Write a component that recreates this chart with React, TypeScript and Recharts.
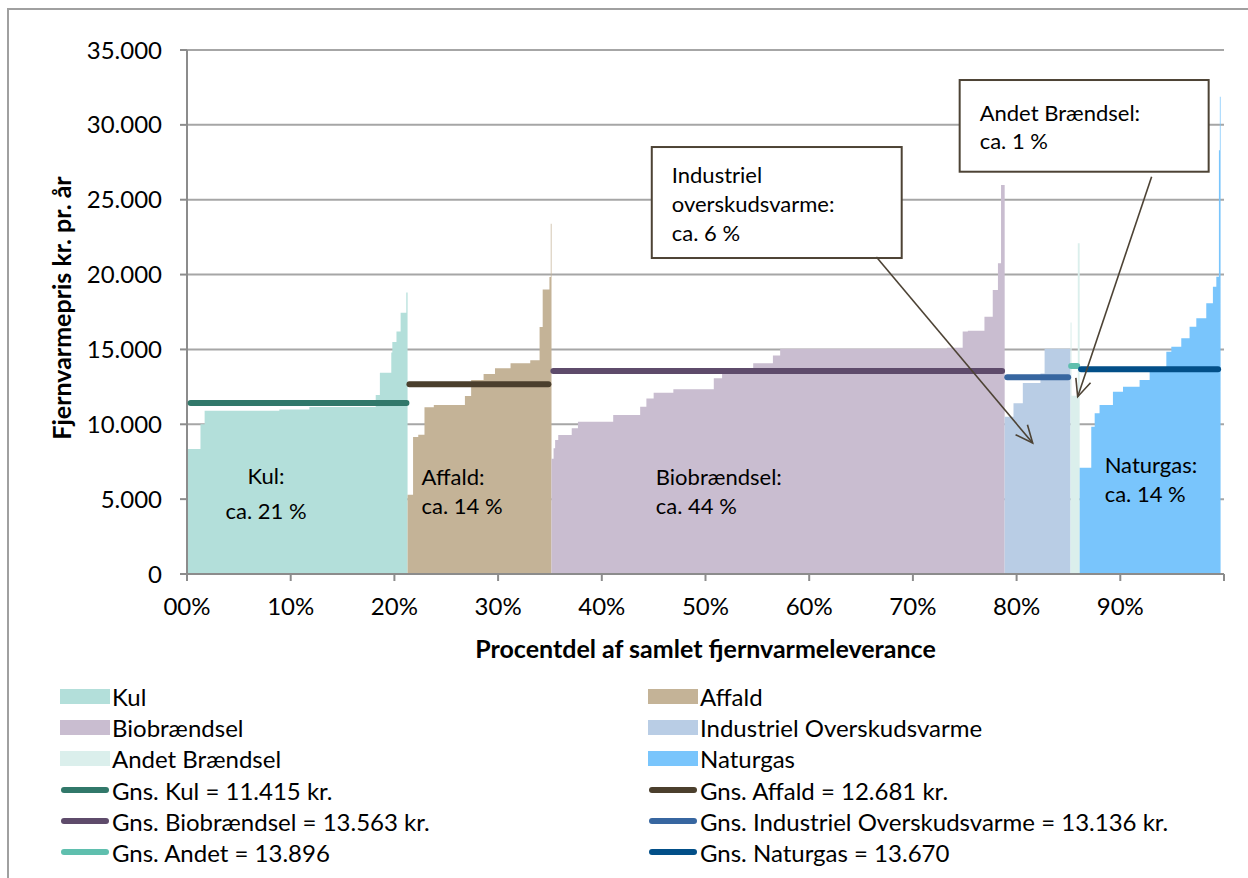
import React from 'react';
import {
  ComposedChart,
  Area,
  XAxis,
  YAxis,
  CartesianGrid,
  ReferenceLine,
  ReferenceArea,
  ReferenceDot,
} from 'recharts';

// ---------- DATA ----------
// step start positions (% of total district heating delivery) and price (kr. pr. år)
const kulX = [0, 1.3, 1.7, 8.9, 11.8, 18.2, 18.6, 19.7, 19.8, 20.2, 20.6, 21.15];
const kulY = [8350, 10000, 10900, 10980, 11150, 11950, 13450, 14800, 15500, 16200, 17450, 18800];
const kulEnd = 21.27;

const affaldX = [21.27, 21.8, 22.3, 22.9, 23.8, 26.8, 27.4, 28.6, 29.7, 31.2, 33.1, 34.0, 34.3, 34.95, 35.08];
const affaldY = [5300, 9150, 9300, 11130, 11290, 11890, 12960, 13360, 13740, 14070, 14270, 16500, 19000, 19840, 23400];
const affaldEnd = 35.15;

const bioX = [35.15, 35.35, 35.5, 35.8, 37.1, 37.7, 41.1, 43.7, 44.3, 45.0, 46.9, 50.8, 51.6, 54.6, 56.5, 57.2, 73.3, 74.8, 75.3, 76.9, 77.7, 78.2, 78.5];
const bioY = [7700, 8400, 8950, 9280, 9730, 10170, 10620, 11170, 11730, 12110, 12340, 13070, 13360, 14070, 14600, 15050, 15110, 16190, 16250, 17190, 18970, 20750, 25980];
const bioEnd = 78.85;

const industrielX = [78.85, 79.7, 80.6, 82.3, 82.7];
const industrielY = [10500, 11400, 12750, 13400, 15050];
const industrielEnd = 85.2;

const andetX = [85.2, 85.3, 85.9];
const andetY = [16800, 11900, 22100];
const andetEnd = 86.08;

const naturgasX = [86.08, 87.2, 87.53, 88.0, 89.29, 90.26, 91.86, 92.83, 94.44, 94.92, 95.88, 96.68, 97.33, 98.29, 98.93, 99.26, 99.51, 99.6];
const naturgasY = [7100, 9840, 10730, 11290, 12180, 12510, 12960, 13510, 14850, 15180, 15740, 16520, 17080, 18080, 19190, 19860, 28300, 31880];
const naturgasEnd = 99.67;

const seriesKeys = ['kul', 'affald', 'bio', 'industriel', 'andet', 'naturgas'];
const seriesNames = ['Kul', 'Affald', 'Biobrændsel', 'Industriel Overskudsvarme', 'Andet Brændsel', 'Naturgas'];

// averages and the stretch of delivery they cover
const avgValues = [11415, 12681, 13563, 13136, 13896, 13670];
const avgFrom = [0.35, 21.45, 35.33, 79.1, 85.26, 86.22];
const avgTo = [21.16, 34.85, 78.6, 84.97, 85.84, 99.43];
const avgNames = [
  'Gns. Kul = 11.415 kr.',
  'Gns. Affald = 12.681 kr.',
  'Gns. Biobrændsel = 13.563 kr.',
  'Gns. Industriel Overskudsvarme = 13.136 kr.',
  'Gns. Andet = 13.896',
  'Gns. Naturgas = 13.670',
];

const yTicks = [0, 5000, 10000, 15000, 20000, 25000, 30000, 35000];
const xTicks = [0, 10, 20, 30, 40, 50, 60, 70, 80, 90, 100];

// in-chart labels: anchor (x %, price) and text lines
const areaLabelX = [7.62, 22.62, 45.21, 88.49];
const areaLabelY = [6011, 5944, 5944, 6726];
const areaLabelLines = [
  ['Kul:', 'ca. 21 %'],
  ['Affald:', 'ca. 14 %'],
  ['Biobrændsel:', 'ca. 44 %'],
  ['Naturgas:', 'ca. 14 %'],
];

// callout boxes and arrows (data coordinates)
const boxX1 = [44.82, 74.51];
const boxX2 = [68.92, 98.52];
const boxY1 = [21106, 26870];
const boxY2 = [28519, 32995];
const boxLines = [
  ['Industriel', 'overskudsvarme:', 'ca. 6 %'],
  ['Andet Brændsel:', 'ca. 1 %'],
];
const arrowFromX = [66.48, 93.02];
const arrowFromY = [21170, 26540];
const arrowToX = [81.55, 85.89];
const arrowToY = [8750, 11840];

// ---------- STYLE ----------
const FONT = 'Lato, "Open Sans", sans-serif';
const FS = 22; // annotations
const TICK_FS = 24;
const LEGEND_FS = 24;
const TITLE_FS = 25;
const fillColors = ['#b3dfda', '#c4b397', '#c9bdd0', '#b9cde5', '#dbefec', '#79c5fc'];
const avgColors = ['#31786a', '#4b3f2d', '#5e4b6b', '#3766a0', '#5fbfae', '#024f88'];
const GRID = '#a6a6a6';
const AXIS = '#8c8c8c';
const BOX = '#4d4335';

// ---------- build table ----------
const seriesX = [kulX, affaldX, bioX, industrielX, andetX, naturgasX];
const seriesY = [kulY, affaldY, bioY, industrielY, andetY, naturgasY];
const seriesEnd = [kulEnd, affaldEnd, bioEnd, industrielEnd, andetEnd, naturgasEnd];

const rows: any[] = [];
seriesKeys.forEach((key, s) => {
  const xs = seriesX[s];
  const ys = seriesY[s];
  xs.forEach((x, i) => rows.push({ x, [key]: ys[i] }));
  rows.push({ x: seriesEnd[s], [key]: ys[ys.length - 1] });
});

const fmtY = (v: number) => String(v).replace(/\B(?=(\d{3})+(?!\d))/g, '.');
const fmtX = (v: number) => (v === 0 ? '00%' : v === 100 ? '' : `${v}%`);

const Arrow = (p: any) => {
  const { x1, y1, x2, y2 } = p;
  const ang = Math.atan2(y2 - y1, x2 - x1);
  const L = 19;
  const a = 0.42;
  const ax = x2 - L * Math.cos(ang - a);
  const ay = y2 - L * Math.sin(ang - a);
  const bx = x2 - L * Math.cos(ang + a);
  const by = y2 - L * Math.sin(ang + a);
  return (
    <g>
      <line x1={x1} y1={y1} x2={x2} y2={y2} stroke={BOX} strokeWidth={1.6} />
      <polyline points={`${ax},${ay} ${x2},${y2} ${bx},${by}`} fill="none" stroke={BOX} strokeWidth={1.6} />
    </g>
  );
};

const makeBox = (lines: string[], offsets: number[]) => (p: any) => {
  const { x, y, width, height } = p;
  return (
    <g>
      <rect x={x} y={y} width={width} height={height} fill="#ffffff" stroke={BOX} strokeWidth={2} />
      {lines.map((t, i) => (
        <text key={i} x={x + 20} y={y + offsets[i]} fontSize={FS} fontFamily={FONT} fill="#000">
          {t}
        </text>
      ))}
    </g>
  );
};
const boxOffsets = [
  [35.7, 65, 94.3],
  [41, 69.3],
];

const makeAreaLabel = (lines: string[], centered: boolean, gap: number) => (p: any) => (
  <g>
    {lines.map((t, i) => (
      <text
        key={i}
        x={p.cx}
        y={p.cy + i * gap}
        fontSize={FS}
        fontFamily={FONT}
        fill="#000"
        textAnchor={centered ? 'middle' : 'start'}
      >
        {t}
      </text>
    ))}
  </g>
);

const legendRowsY = [696, 727, 758, 790, 821, 852];

export default function App() {
  const legendItems: any[] = [];
  seriesNames.forEach((n, i) => legendItems.push({ name: n, color: fillColors[i], kind: 'box' }));
  avgNames.forEach((n, i) => legendItems.push({ name: n, color: avgColors[i], kind: 'line' }));

  return (
    <div
      style={{
        position: 'fixed',
        left: 0,
        top: 0,
        width: 1248,
        height: 878,
        overflow: 'hidden',
        background: '#fff',
        fontFamily: FONT,
      }}
    >
      <div
        style={{
          position: 'absolute',
          left: 7,
          top: 8,
          width: 1300,
          height: 900,
          border: '2px solid #a0a0a0',
        }}
      />
      <div style={{ position: 'absolute', left: 0, top: 0 }}>
        <ComposedChart
          width={1248}
          height={690}
          data={rows}
          margin={{ top: 50, right: 24, bottom: 36, left: 0 }}
        >
          <CartesianGrid horizontal vertical={false} stroke={GRID} strokeWidth={2} />
          <XAxis
            dataKey="x"
            type="number"
            domain={[0, 100]}
            ticks={xTicks}
            tickFormatter={fmtX}
            interval={0}
            height={80}
            stroke={AXIS}
            strokeWidth={2}
            tickSize={7}
            tickMargin={17}
            tick={{ fontSize: TICK_FS, fill: '#000', fontFamily: FONT }}
            label={{
              content: () => (
                <text x={705.5} y={658} textAnchor="middle" fontSize={TITLE_FS} fontWeight="bold" fontFamily={FONT} fill="#000">
                  Procentdel af samlet fjernvarmeleverance
                </text>
              ),
            }}
          />
          <YAxis
            type="number"
            domain={[0, 35000]}
            ticks={yTicks}
            tickFormatter={fmtY}
            interval={0}
            width={187}
            stroke={AXIS}
            strokeWidth={2}
            tickSize={7}
            tickMargin={18}
            tick={{ fontSize: TICK_FS, fill: '#000', fontFamily: FONT }}
            label={{
              content: () => (
                <text
                  x={71}
                  y={308}
                  textAnchor="middle"
                  fontSize={TITLE_FS}
                  fontWeight="bold"
                  fontFamily={FONT}
                  fill="#000"
                  transform="rotate(-90, 71, 308)"
                >
                  Fjernvarmepris kr. pr. år
                </text>
              ),
            }}
          />
          {seriesKeys.map((k, i) => (
            <Area
              key={k}
              type="stepAfter"
              dataKey={k}
              name={seriesNames[i]}
              fill={fillColors[i]}
              fillOpacity={1}
              stroke="none"
              dot={false}
              activeDot={false}
              connectNulls={false}
              isAnimationActive={false}
            />
          ))}
          {areaLabelLines.map((lines, i) => (
            <ReferenceDot
              key={'lab' + i}
              x={areaLabelX[i]}
              y={areaLabelY[i]}
              r={0}
              shape={makeAreaLabel(lines, i === 0, i === 0 ? 35 : 28.5)}
              zIndex={650}
            />
          ))}
          {avgValues.map((v, i) => (
            <ReferenceLine
              key={'avg' + i}
              segment={[
                { x: avgFrom[i], y: v },
                { x: avgTo[i], y: v },
              ]}
              stroke={avgColors[i]}
              strokeWidth={6}
              strokeLinecap="round"
              zIndex={600}
            />
          ))}
          {boxLines.map((lines, i) => (
            <ReferenceArea
              key={'box' + i}
              x1={boxX1[i]}
              x2={boxX2[i]}
              y1={boxY1[i]}
              y2={boxY2[i]}
              shape={makeBox(lines, boxOffsets[i])}
              zIndex={700}
            />
          ))}
          {arrowFromX.map((fx, i) => (
            <ReferenceLine
              key={'arr' + i}
              segment={[
                { x: fx, y: arrowFromY[i] },
                { x: arrowToX[i], y: arrowToY[i] },
              ]}
              shape={Arrow}
              zIndex={750}
            />
          ))}
        </ComposedChart>
      </div>
      {legendItems.map((it, idx) => {
        const col = idx % 2;
        const row = Math.floor(idx / 2);
        const cy = legendRowsY[row];
        const left = col === 0 ? 60 : 648;
        return (
          <div
            key={idx}
            style={{
              position: 'absolute',
              left,
              top: cy - 15,
              height: 30,
              display: 'flex',
              alignItems: 'center',
              fontSize: LEGEND_FS,
              whiteSpace: 'nowrap',
              color: '#000',
            }}
          >
            {it.kind === 'box' ? (
              <span style={{ display: 'inline-block', width: 50, height: 15, background: it.color, marginRight: 2 }} />
            ) : (
              <span
                style={{
                  display: 'inline-block',
                  width: 48,
                  height: 6,
                  borderRadius: 3,
                  background: it.color,
                  marginLeft: 1,
                  marginRight: 3,
                }}
              />
            )}
            <span>{it.name}</span>
          </div>
        );
      })}
    </div>
  );
}
